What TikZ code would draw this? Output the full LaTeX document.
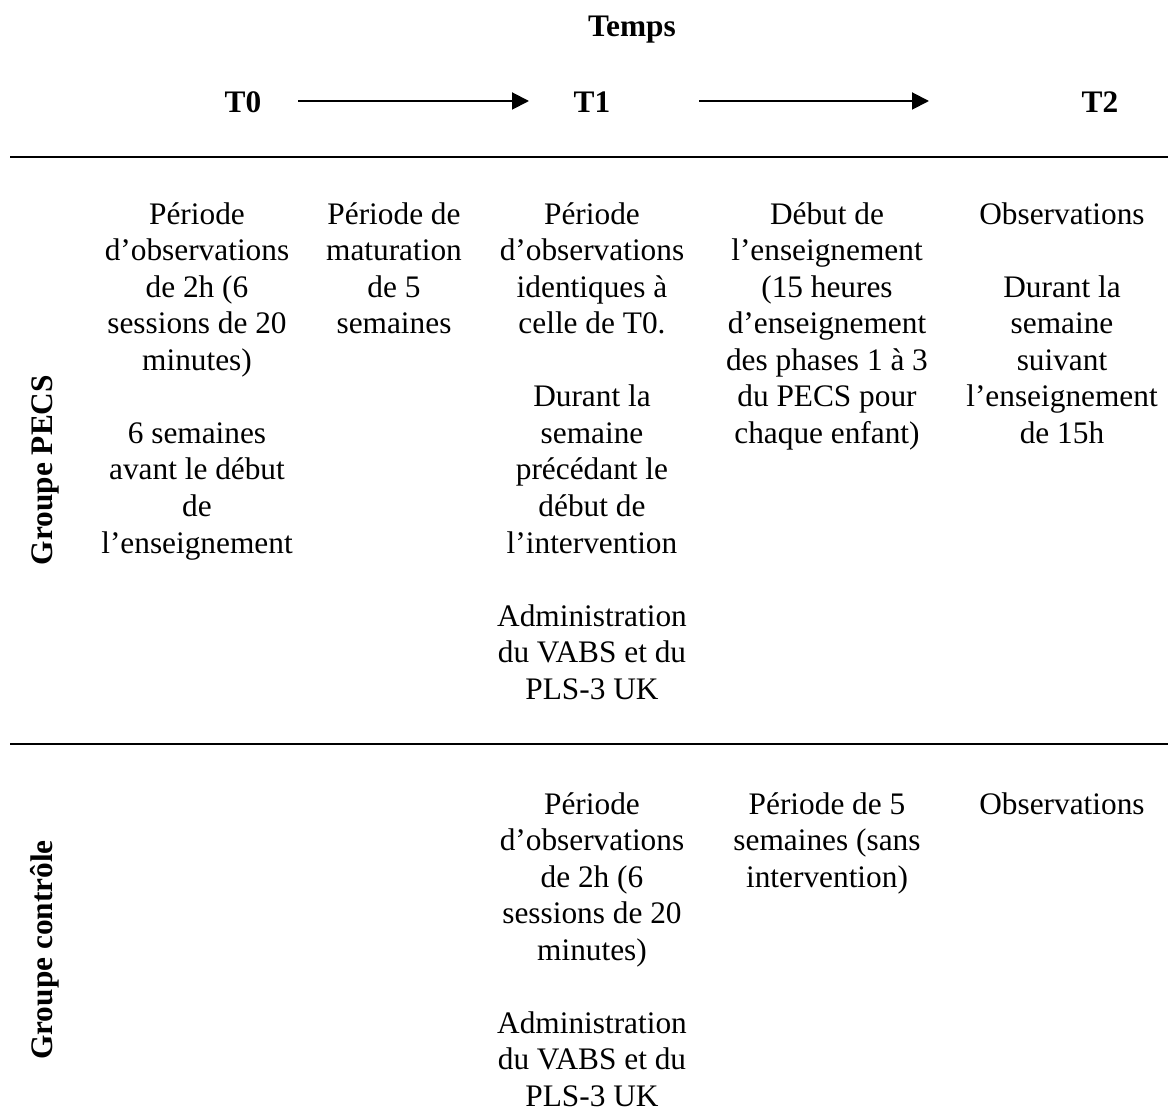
\documentclass[tikz,border=0pt]{standalone}
\usepackage{fontspec}
\setmainfont{Liberation Serif}
\usepackage{tikz}
\usetikzlibrary{arrows.meta}

\begin{document}
\begin{tikzpicture}[x=0.383pt,y=-0.383pt]
\tikzstyle{cellule}=[anchor=north,align=center,inner sep=0pt,font=\fontsize{12}{14}\selectfont]
\tikzstyle{titre}=[inner sep=0pt,font=\fontsize{12}{14}\selectfont\bfseries]
\tikzstyle{groupe}=[inner sep=0pt,rotate=90,font=\fontsize{12}{14}\selectfont\bfseries]
\tikzstyle{fleche}=[-{Triangle[length=6.5pt,width=6.5pt]},line width=0.75pt]
\tikzstyle{regle}=[line width=1.1pt]
\useasboundingbox (0,0) rectangle (1168,1113);

% en-tete
\node[titre] (temps) at (632,30){Temps};
\node[titre] (t0) at (243,102){T0};
\node[titre] (t1) at (592,102){T1};
\node[titre] (t2) at (1100,102){T2};
\coordinate (fleche1_debut) at (298,101);
\coordinate (fleche1_fin) at (529,101);
\coordinate (fleche2_debut) at (699,101);
\coordinate (fleche2_fin) at (929,101);
\draw[fleche] (fleche1_debut)--(fleche1_fin);
\draw[fleche] (fleche2_debut)--(fleche2_fin);

\coordinate (regle1_g) at (10,157);
\coordinate (regle1_d) at (1168,157);
\coordinate (regle2_g) at (10,744);
\coordinate (regle2_d) at (1168,744);
\draw[regle] (regle1_g)--(regle1_d);
\draw[regle] (regle2_g)--(regle2_d);

% groupe PECS
\node[groupe] (pecs_label) at (45,470){Groupe PECS};
\node[cellule] (pecs_col1) at (197,198){\strut Période\\d’observations\\de 2h (6\\sessions de 20\\minutes)\\[14pt]6 semaines\\avant le début\\de\\l’enseignement};
\node[cellule] (pecs_col2) at (394,198){\strut Période de\\maturation\\de 5\\semaines};
\node[cellule] (pecs_col3) at (592,198){\strut Période\\d’observations\\identiques à\\celle de T0.\\[14pt]Durant la\\semaine\\précédant le\\début de\\l’intervention\\[14pt]Administration\\du VABS et du\\PLS-3 UK};
\node[cellule] (pecs_col4) at (827,198){\strut Début de\\l’enseignement\\(15 heures\\d’enseignement\\des phases 1 à 3\\du PECS pour\\chaque enfant)};
\node[cellule] (pecs_col5) at (1062,198){\strut Observations\\[14pt]Durant la\\semaine\\suivant\\l’enseignement\\de 15h};

% groupe controle
\node[groupe] (controle_label) at (45,950){Groupe contrôle};
\node[cellule] (controle_col3) at (592,788){\strut Période\\d’observations\\de 2h (6\\sessions de 20\\minutes)\\[14pt]Administration\\du VABS et du\\PLS-3 UK};
\node[cellule] (controle_col4) at (827,788){\strut Période de 5\\semaines (sans\\intervention)};
\node[cellule] (controle_col5) at (1062,788){\strut Observations};

\end{tikzpicture}
\end{document}
